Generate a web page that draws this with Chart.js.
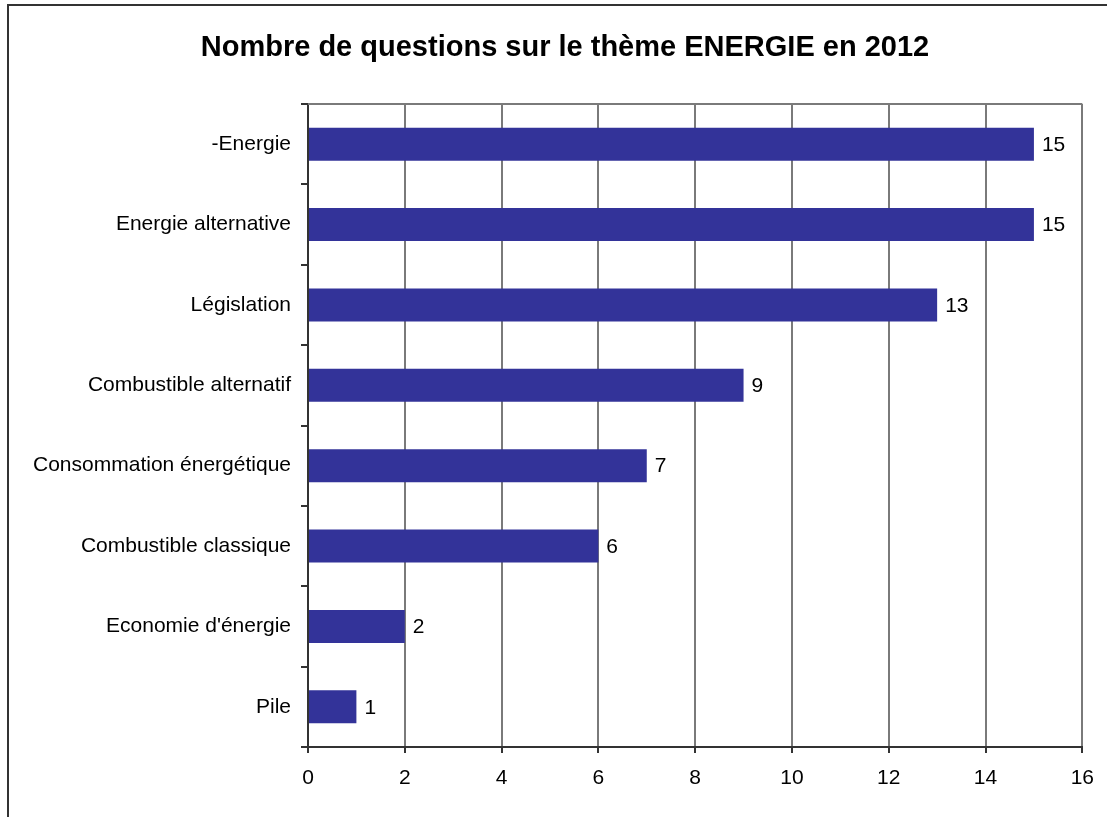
<!DOCTYPE html>
<html>
<head>
<meta charset="utf-8">
<script src="https://cdn.jsdelivr.net/npm/chart.js@4"></script>
<style>
  body { margin: 0; background: #fff; overflow: hidden; }
  #frame { position: absolute; left: 7px; top: 4px; width: 1200px; height: 900px; border: 2px solid #333; }
  #energy-chart { position: absolute; left: 0; top: 0; }
</style>
</head>
<body>
<div id="frame"></div>
<canvas id="energy-chart" width="1107" height="817"></canvas>
<script>
const categories = ['-Energie', 'Energie alternative', 'Législation', 'Combustible alternatif',
  'Consommation énergétique', 'Combustible classique', "Economie d'énergie", 'Pile'];
const questions = [15, 15, 13, 9, 7, 6, 2, 1];
const xTicks = [0, 2, 4, 6, 8, 10, 12, 14, 16];
const chartTitle = 'Nombre de questions sur le thème ENERGIE en 2012';

const FONT = 'Arial, "Liberation Sans", sans-serif';

// value labels at the end of each bar
const barLabels = {
  id: 'barLabels',
  afterDatasetsDraw(chart) {
    const c = chart.ctx;
    const meta = chart.getDatasetMeta(0);
    c.save();
    c.font = '21px ' + FONT;
    c.fillStyle = '#000';
    c.textBaseline = 'middle';
    c.textAlign = 'left';
    meta.data.forEach((bar, i) => {
      c.fillText(String(questions[i]), bar.x + 8, bar.y + 1);
    });
    c.restore();
  }
};

// title centred on the outer frame + top edge of the plot area
const frameDeco = {
  id: 'frameDeco',
  beforeDatasetsDraw(chart) {
    const a = chart.chartArea;
    const c = chart.ctx;
    c.save();
    c.strokeStyle = '#7a7a7a';
    c.lineWidth = 2;
    c.beginPath();
    c.moveTo(a.left, a.top);
    c.lineTo(a.right, a.top);
    c.stroke();
    c.font = 'bold 29px ' + FONT;
    c.fillStyle = '#000';
    c.textAlign = 'center';
    c.textBaseline = 'middle';
    c.fillText(chartTitle, 565, 48);
    c.restore();
  }
};

const ctx = document.getElementById('energy-chart').getContext('2d');
new Chart(ctx, {
  type: 'bar',
  data: {
    labels: categories,
    datasets: [{
      data: questions,
      backgroundColor: '#333399',
      barPercentage: 0.41,
      categoryPercentage: 1
    }]
  },
  options: {
    indexAxis: 'y',
    responsive: false,
    animation: false,
    layout: { padding: { left: 0, right: 21, top: 104, bottom: 0 } },
    plugins: {
      legend: { display: false },
      tooltip: { enabled: false },
      title: { display: false }
    },
    scales: {
      x: {
        min: 0,
        max: 16,
        afterBuildTicks: (scale) => { scale.ticks = xTicks.map(v => ({ value: v })); },
        afterFit: (scale) => { scale.height = 70; },
        grid: { color: '#7a7a7a', lineWidth: 2, tickLength: 6, tickColor: '#333' },
        border: { color: '#333', width: 2 },
        ticks: { color: '#000', font: { family: FONT, size: 21 }, padding: 13, maxRotation: 0 }
      },
      y: {
        afterFit: (scale) => { scale.width = 308; },
        grid: { offset: true, drawOnChartArea: false, tickLength: 7, color: '#333', lineWidth: 2 },
        border: { color: '#333', width: 2 },
        ticks: { color: '#000', font: { family: FONT, size: 21 }, padding: 10, autoSkip: false }
      }
    }
  },
  plugins: [barLabels, frameDeco]
});
</script>
</body>
</html>
